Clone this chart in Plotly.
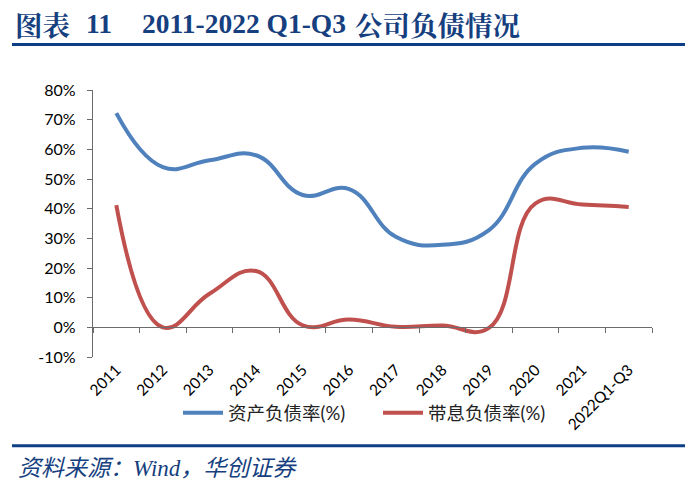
import plotly.graph_objects as go

categories = ["2011", "2012", "2013", "2014", "2015", "2016", "2017", "2018",
              "2019", "2020", "2021", "2022Q1-Q3"]
asset_ratio = [72.2, 54.0, 56.3, 58.0, 44.6, 46.6, 30.5, 27.8, 32.8, 55.2, 60.5, 59.2]
interest_ratio = [41.2, 0.0, 11.3, 19.0, 0.7, 2.6, 0.2, 0.6, -0.2, 41.8, 41.4, 40.6]
series_names = ["资产负债率(%)", "带息负债率(%)"]
y_ticks = [-10, 0, 10, 20, 30, 40, 50, 60, 70, 80]
y_tick_labels = ["-10%", "0%", "10%", "20%", "30%", "40%", "50%", "60%", "70%", "80%"]
title_label = "图表"
title_number = "11"
title_years = "2011-2022 Q1-Q3"
title_subject = "公司负债情况"
source_text = "资料来源：Wind，华创证券"

W, H = 685, 490
L, R, T, B = 93, 33, 89.6, 132.5
PW, PH = W - L - R, H - T - B


def px_x(px):
    return (px - L) / PW


def px_y(py):
    return (H - B - py) / PH


BLUE = "#4F81BD"
RED = "#C0504D"
NAVY = "#163f7f"
AXIS = "#6b6b6b"
SMOOTH = 1.25

fig = go.Figure()
fig.add_trace(go.Scatter(x=categories, y=asset_ratio, mode="lines", name=series_names[0],
                         line=dict(color=BLUE, width=4, shape="spline", smoothing=SMOOTH)))
fig.add_trace(go.Scatter(x=categories, y=interest_ratio, mode="lines", name=series_names[1],
                         line=dict(color=RED, width=4, shape="spline", smoothing=SMOOTH)))
fig.add_trace(go.Scatter(x=categories, y=[None] * len(categories), xaxis="x2", yaxis="y",
                         showlegend=False, hoverinfo="skip", mode="lines"))

n = len(categories)
fig.update_layout(
    width=W, height=H,
    margin=dict(l=L, r=R, t=T, b=B, autoexpand=False),
    paper_bgcolor="white", plot_bgcolor="white",
    font=dict(family="Lato, 'Noto Sans CJK SC', sans-serif", color="#000000", size=15),
    showlegend=True,
    legend=dict(orientation="h", x=px_x(178), xanchor="left", y=px_y(414), yanchor="middle",
                font=dict(size=18.5, family="Lato, 'Noto Sans CJK SC', sans-serif", color="#222"),
                itemwidth=40, entrywidth=145, entrywidthmode="pixels",
                bgcolor="rgba(0,0,0,0)"),
    xaxis=dict(type="category", range=[-0.5, n - 0.5], showline=False, ticks="",
               tickangle=-45, tickfont=dict(size=15.5), showgrid=False, zeroline=False,
               automargin=False, fixedrange=True),
    xaxis2=dict(type="category", overlaying="x", anchor="free", position=1 / 9,
                range=[-0.5, n - 0.5], showticklabels=False, showline=True,
                linecolor=AXIS, linewidth=1.3, ticks="outside", ticklen=5, tickwidth=1.3,
                tickcolor=AXIS, tickson="boundaries", showgrid=False, zeroline=False),
    yaxis=dict(range=[-10, 80], tickvals=y_ticks, ticktext=y_tick_labels, showline=True,
               linecolor=AXIS, linewidth=1.3, ticks="outside", ticklen=5, tickwidth=1.3,
               tickcolor=AXIS, showgrid=False, zeroline=False, tickfont=dict(size=16),
               ticklabelstandoff=8, automargin=False, fixedrange=True),
)

latin_title_font = dict(family="'Liberation Serif', serif", size=27.5, color=NAVY)
cjk_title_font = dict(family="'Noto Serif CJK SC', 'Noto Sans CJK SC', serif",
                      size=27.5, color=NAVY)
title_pieces = [(title_label, 13, cjk_title_font), (title_number, 84, latin_title_font),
                (title_years, 140, latin_title_font), (title_subject, 353, cjk_title_font)]
for txt, xpos, fnt in title_pieces:
    fig.add_annotation(text="<b>" + txt + "</b>", xref="paper", yref="paper",
                       x=px_x(xpos), y=px_y(23), xanchor="left", yanchor="middle",
                       showarrow=False, font=fnt)
fig.add_annotation(text="<i>" + source_text + "</i>", xref="paper", yref="paper",
                   x=px_x(16), y=px_y(469), xanchor="left", yanchor="middle",
                   showarrow=False,
                   font=dict(family="'Liberation Serif', 'Noto Sans CJK SC', serif",
                             size=23, color=NAVY))

fig.add_shape(type="line", xref="paper", yref="paper", x0=px_x(12), x1=px_x(685),
              y0=px_y(44), y1=px_y(44), line=dict(color="#0c3f86", width=3))
fig.add_shape(type="line", xref="paper", yref="paper", x0=px_x(12), x1=px_x(685),
              y0=px_y(446.5), y1=px_y(446.5), line=dict(color="#0c3f86", width=3))

fig.write_html("out.html", config={"displayModeBar": False},
               post_script="document.body.style.margin='0';")
